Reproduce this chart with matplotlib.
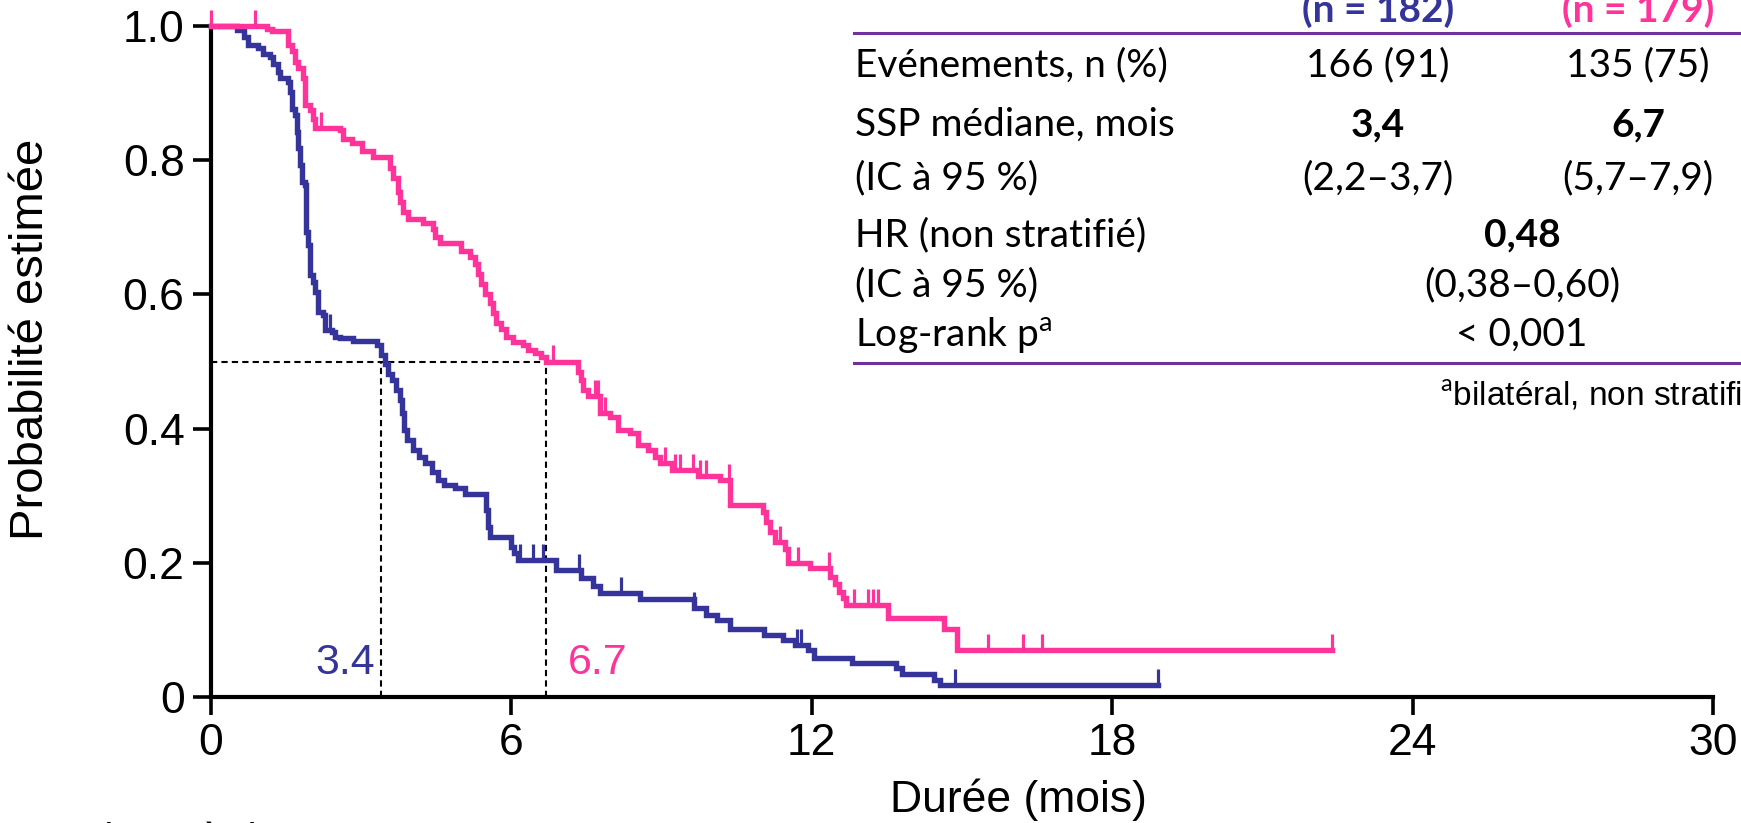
import numpy as np
import matplotlib.pyplot as plt

plt.rcParams['font.family'] = ['Liberation Sans', 'DejaVu Sans']
plt.rcParams['mathtext.fontset'] = 'custom'
plt.rcParams['mathtext.rm'] = 'Lato'

BLUE = '#35349B'
PINK = '#FF3399'
PURPLE = '#7030A0'

# courbes de Kaplan-Meier (mois, probabilite apres chaque evenement)
blue_times = [0, 0.51, 0.65, 0.74, 0.94, 1.04, 1.18, 1.24, 1.34, 1.38, 1.54, 1.58, 1.61,
              1.68, 1.71, 1.74, 1.78, 1.81, 1.88, 1.90, 1.94, 1.98, 2.04, 2.08, 2.14,
              2.24, 2.28, 2.41, 2.48, 2.57, 2.84, 3.31, 3.39, 3.47, 3.54, 3.62, 3.69,
              3.77, 3.81, 3.85, 3.92, 4.04, 4.15, 4.27, 4.42, 4.53, 4.65, 4.88, 5.07,
              5.49, 5.53, 5.57, 5.99, 6.06, 6.14, 6.90, 7.40, 7.63, 7.76, 8.57, 9.64,
              9.89, 10.10, 10.36, 11.05, 11.43, 11.66, 11.93, 12.04, 12.81, 13.68,
              13.80, 14.45, 14.56]
blue_surv = [1.0, 0.994, 0.984, 0.972, 0.967, 0.959, 0.954, 0.944, 0.932, 0.922, 0.917,
             0.902, 0.877, 0.867, 0.842, 0.818, 0.793, 0.768, 0.763, 0.693, 0.674, 0.629,
             0.619, 0.604, 0.574, 0.569, 0.547, 0.544, 0.537, 0.535, 0.530, 0.525, 0.510,
             0.497, 0.482, 0.472, 0.458, 0.443, 0.423, 0.398, 0.383, 0.368, 0.358, 0.348,
             0.336, 0.323, 0.316, 0.311, 0.303, 0.279, 0.254, 0.239, 0.224, 0.214, 0.204,
             0.189, 0.177, 0.165, 0.155, 0.146, 0.133, 0.122, 0.115, 0.102, 0.092, 0.085,
             0.077, 0.070, 0.058, 0.050, 0.043, 0.035, 0.025, 0.018]
blue_censor = [2.38, 6.18, 6.44, 6.63, 7.36, 8.18, 9.64, 11.70, 11.78, 14.87, 18.92]
blue_end = 18.92

pink_times = [0, 1.11, 1.21, 1.54, 1.61, 1.68, 1.74, 1.84, 1.88, 1.98, 2.04, 2.08, 2.57,
              2.64, 2.81, 3.01, 3.24, 3.57, 3.64, 3.74, 3.77, 3.84, 3.94, 4.24, 4.44,
              4.47, 4.57, 5.00, 5.17, 5.27, 5.34, 5.40, 5.47, 5.57, 5.63, 5.70, 5.80,
              5.90, 6.03, 6.23, 6.33, 6.47, 6.60, 6.70, 7.33, 7.40, 7.43, 7.53, 7.76,
              7.96, 8.13, 8.36, 8.53, 8.73, 8.86, 8.96, 9.20, 9.73, 10.16, 10.36, 11.02,
              11.09, 11.16, 11.26, 11.46, 11.52, 11.96, 12.36, 12.46, 12.55, 12.62,
              12.69, 13.52, 14.65, 14.90]
pink_surv = [1.0, 0.996, 0.993, 0.972, 0.962, 0.947, 0.937, 0.922, 0.882, 0.875, 0.862,
             0.848, 0.845, 0.832, 0.825, 0.813, 0.805, 0.788, 0.773, 0.753, 0.738, 0.723,
             0.713, 0.706, 0.698, 0.686, 0.676, 0.664, 0.656, 0.646, 0.631, 0.616, 0.601,
             0.587, 0.572, 0.557, 0.549, 0.537, 0.529, 0.525, 0.517, 0.512, 0.507, 0.500,
             0.485, 0.472, 0.458, 0.448, 0.423, 0.418, 0.398, 0.393, 0.376, 0.368, 0.358,
             0.348, 0.338, 0.329, 0.323, 0.286, 0.276, 0.261, 0.246, 0.231, 0.221, 0.199,
             0.192, 0.179, 0.169, 0.157, 0.147, 0.137, 0.118, 0.102, 0.070]
pink_censor = [0.0, 0.88, 2.19, 6.83, 7.66, 7.73, 7.86, 9.06, 9.26, 9.36, 9.63, 9.76,
               9.89, 10.34, 11.36, 11.72, 12.34, 12.85, 13.12, 13.22, 13.32, 15.52,
               16.21, 16.59, 22.4]
pink_end = 22.4

medians = [3.4, 6.7]
median_labels = ['3.4', '6.7']

x_ticks = [0, 6, 12, 18, 24, 30]
y_ticks = [0, 0.2, 0.4, 0.6, 0.8, 1.0]
y_ticklabels = ['0', '0.2', '0.4', '0.6', '0.8', '1.0']

headers = ['(n = 182)', '(n = 179)']
row_labels = ['Evénements, n (%)', 'SSP médiane, mois', '(IC à 95 %)',
              'HR (non stratifié)', '(IC à 95 %)', 'Log-rank p$^{\\mathrm{a}}$']
events = ['166 (91)', '135 (75)']
median_pfs = ['3,4', '6,7']
median_ci = ['(2,2–3,7)', '(5,7–7,9)']
hr = '0,48'
hr_ci = '(0,38–0,60)'
p_value = '< 0,001'
footnote = '$^{\\mathrm{a}}$bilatéral, non stratifié'
risk_label = 'Patients à risque'

W, H = 1741, 823


def fx(px):
    return px / W


def fy(py):
    return 1 - py / H


def surv_at(times, surv, t):
    i = np.searchsorted(times, t, side='right') - 1
    return surv[max(i, 0)]


def draw_curve(ax, times, surv, censor, end, color):
    xs = list(times) + [end]
    ys = list(surv) + [surv[-1]]
    ax.step(xs, ys, where='post', color=color, lw=3.9, clip_on=False,
            solid_joinstyle='miter', zorder=3)
    for t in censor:
        s = surv_at(times, surv, t)
        ax.plot([t, t], [s, s + 0.024], color=color, lw=2.3, clip_on=False,
                solid_capstyle='butt', zorder=3)


fig = plt.figure(figsize=(W / 100, H / 100), dpi=100)
ax = fig.add_axes([fx(211), fy(697), fx(1713) - fx(211), (697 - 26) / H])

draw_curve(ax, blue_times, blue_surv, blue_censor, blue_end, BLUE)
draw_curve(ax, pink_times, pink_surv, pink_censor, pink_end, PINK)

# medianes
ax.plot([0, medians[1]], [0.5, 0.5], color='black', lw=1.5, ls=(0, (3, 2)), zorder=2)
for m in medians:
    ax.plot([m, m], [0, 0.5], color='black', lw=1.5, ls=(0, (3, 2)), zorder=2)
ax.text(medians[0] - 0.12, 0.05, median_labels[0], color=BLUE, fontsize=31,
        ha='right', va='center')
ax.text(medians[1] + 0.42, 0.05, median_labels[1], color=PINK, fontsize=31,
        ha='left', va='center')

ax.set_xlim(0, 30)
ax.set_ylim(0, 1)
ax.set_xticks(x_ticks)
ax.set_xticklabels([str(t) for t in x_ticks])
ax.set_yticks(y_ticks)
ax.set_yticklabels(y_ticklabels)
for side in ['top', 'right']:
    ax.spines[side].set_visible(False)
for side in ['left', 'bottom']:
    ax.spines[side].set_linewidth(3)
ax.tick_params(direction='out', length=13, width=2.6, labelsize=32, pad=6)

fig.text(fx(31), fy(339), 'Probabilité estimée', rotation=90, fontsize=34,
         ha='center', va='center')
fig.text(fx(1018), fy(800), 'Durée (mois)', fontsize=32, ha='center', va='center')
fig.text(fx(44), fy(821), risk_label, fontsize=29, ha='left', va='top')

# tableau
tf = ['Lato', 'DejaVu Sans']
col_x = [1378, 1638]
hr_x = 1522
row_y = [65, 125, 178, 235, 285, 335]
for x, h, c in zip(col_x, headers, [BLUE, PINK]):
    fig.text(fx(x), fy(10), h, fontsize=28, family=tf, weight='bold', color=c,
             ha='center', va='center')
for y in [33, 363]:
    fig.add_artist(plt.Line2D([fx(854), 1], [fy(y), fy(y)], color=PURPLE, lw=2.2))
for y, lab in zip(row_y, row_labels):
    fig.text(fx(855), fy(y), lab, fontsize=28, family=tf, ha='left', va='center')
for i, x in enumerate(col_x):
    fig.text(fx(x), fy(row_y[0]), events[i], fontsize=28, family=tf, ha='center', va='center')
    fig.text(fx(x), fy(row_y[1]), median_pfs[i], fontsize=28, family=tf, weight='bold',
             ha='center', va='center')
    fig.text(fx(x), fy(row_y[2]), median_ci[i], fontsize=28, family=tf, ha='center', va='center')
fig.text(fx(hr_x), fy(row_y[3]), hr, fontsize=28, family=tf, weight='bold', ha='center', va='center')
fig.text(fx(hr_x), fy(row_y[4]), hr_ci, fontsize=28, family=tf, ha='center', va='center')
fig.text(fx(hr_x), fy(row_y[5]), p_value, fontsize=28, family=tf, ha='center', va='center')
fig.text(fx(1440), fy(396), footnote, fontsize=24, ha='left', va='center')

fig.savefig('out.png', dpi=100)
